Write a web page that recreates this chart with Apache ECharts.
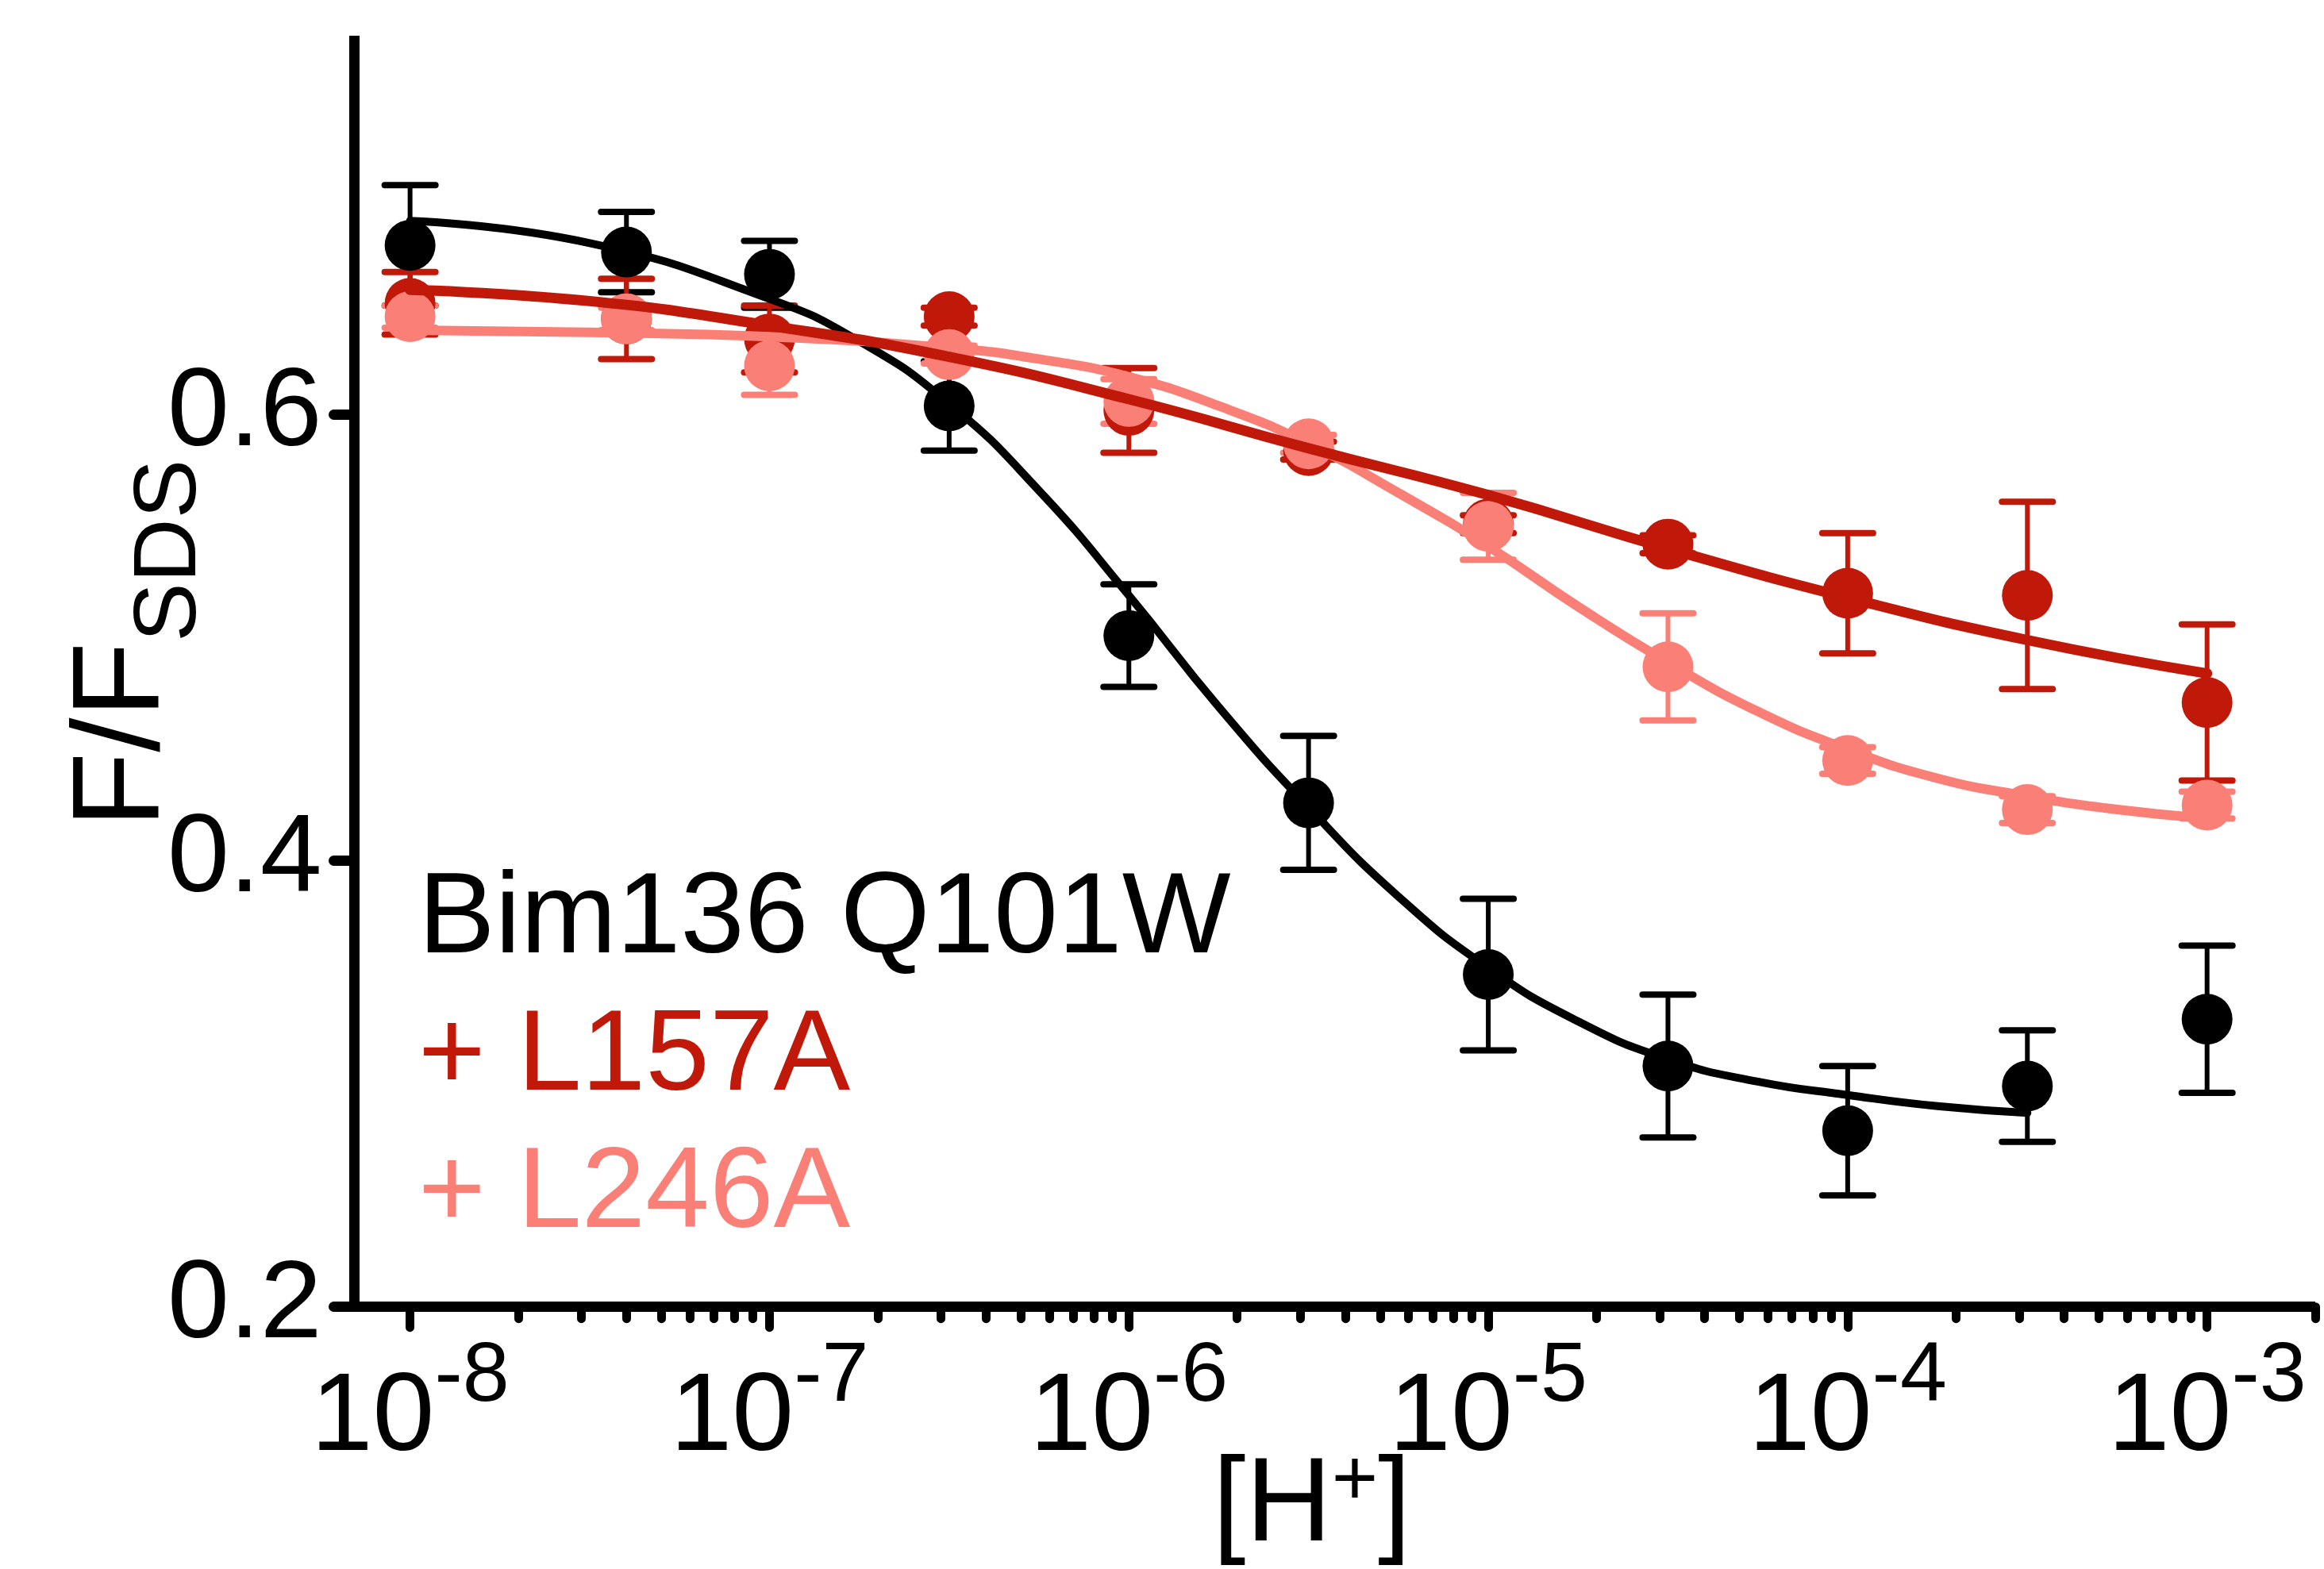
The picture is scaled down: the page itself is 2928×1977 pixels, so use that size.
<!DOCTYPE html>
<html>
<head>
<meta charset="utf-8">
<script src="https://cdn.jsdelivr.net/npm/echarts@6/dist/echarts.min.js"></script>
<style>
  html, body { margin: 0; padding: 0; background: #ffffff; }
  #chart { width: 2928px; height: 1977px; }
</style>
</head>
<body>
<div id="chart"></div>
<script>
// ---- data ----
const hConc = [1e-8, 4e-8, 1e-7, 3.162e-7, 1e-6, 3.162e-6, 1e-5, 3.162e-5, 1e-4, 3.162e-4, 1e-3];

const bimMean = [0.676, 0.673, 0.663, 0.604, 0.501, 0.426, 0.349, 0.308, 0.279, 0.299, 0.329];
const bimErr  = [0.027, 0.018, 0.015, 0.020, 0.023, 0.030, 0.034, 0.032, 0.029, 0.025, 0.033];

const l157Mean = [0.650, 0.643, 0.634, 0.644, 0.602, 0.584, 0.551, 0.542, 0.520, 0.519, 0.471];
const l157Err  = [0.014, 0.018, 0.015, 0.004, 0.019, 0.004, 0.004, 0.004, 0.027, 0.042, 0.035];

const l246Mean = [0.644, 0.643, 0.622, 0.627, 0.606, 0.587, 0.550, 0.487, 0.445, 0.423, 0.425];
const l246Err  = [0.005, 0.005, 0.013, 0.004, 0.010, 0.004, 0.015, 0.024, 0.006, 0.006, 0.006];

// fitted curves (log10 [H+], F/F_SDS)
const bimFitLogH = [-8, -7.5, -7.0, -6.75, -6.5, -6.25, -6.0, -5.75, -5.5, -5.25, -5.0, -4.75, -4.5, -4.25, -4.0, -3.75, -3.5];
const bimFitY    = [0.687, 0.677, 0.652, 0.633, 0.605, 0.566, 0.519, 0.469, 0.424, 0.384, 0.352, 0.328, 0.311, 0.301, 0.295, 0.290, 0.287];

const l157FitLogH = [-8, -7.5, -7, -6.5, -6, -5.5, -5, -4.5, -4, -3.5, -3];
const l157FitY    = [0.656, 0.651, 0.640, 0.626, 0.607, 0.585, 0.564, 0.540, 0.518, 0.499, 0.484];

const l246FitLogH = [-8, -7.5, -7, -6.5, -6.25, -6, -5.75, -5.5, -5.25, -5, -4.75, -4.5, -4.25, -4, -3.75, -3.5, -3.25, -3];
const l246FitY    = [0.638, 0.637, 0.635, 0.630, 0.625, 0.617, 0.604, 0.587, 0.565, 0.541, 0.514, 0.489, 0.467, 0.450, 0.437, 0.429, 0.423, 0.419];

const seriesNames = ['Bim136 Q101W', '+ L157A', '+ L246A'];
const seriesColors = ['#000000', '#C0190A', '#FA8077'];

const xTickExps = [-8, -7, -6, -5, -4, -3];
const minorMultipliers = [2, 3, 4, 5, 6, 7, 8, 9];
const yTicks = [0.2, 0.4, 0.6];

const xMinConc = 7e-9;
const xMaxConc = 2e-3;
const yMin = 0.2, yMax = 0.77;

// ---- build ----
const FONT = "'Liberation Sans', Arial, Helvetica, sans-serif";
const xMin = Math.log10(xMinConc), xMax = Math.log10(xMaxConc);

const minorTicks = [];
xTickExps.forEach(e => minorMultipliers.forEach(m => {
  const v = e + Math.log10(m);
  if (v > xMin && v <= xMax + 1e-9) minorTicks.push(v);
}));

const logH = hConc.map(v => Math.log10(v));
const groups = [
  { mean: bimMean, err: bimErr, fx: bimFitLogH, fy: bimFitY },
  { mean: l157Mean, err: l157Err, fx: l157FitLogH, fy: l157FitY },
  { mean: l246Mean, err: l246Err, fx: l246FitLogH, fy: l246FitY }
];

const series = [];
// error bars
groups.forEach((g, i) => {
  const col = seriesColors[i];
  series.push({
    name: seriesNames[i],
    type: 'custom',
    z: 1,
    silent: true,
    encode: { x: 0, y: 1 },
    data: logH.map((x, k) => [x, g.mean[k], g.err[k]]),
    renderItem: function (params, api) {
      const x = api.value(0), y = api.value(1), e = api.value(2);
      const top = api.coord([x, y + e]);
      const bot = api.coord([x, y - e]);
      const hw = 32;
      return {
        type: 'group',
        children: [
          { type: 'line', shape: { x1: top[0], y1: top[1], x2: bot[0], y2: bot[1] }, style: { stroke: col, lineWidth: 6 } },
          { type: 'line', shape: { x1: top[0] - hw, y1: top[1], x2: top[0] + hw, y2: top[1] }, style: { stroke: col, lineWidth: 8, lineCap: 'round' } },
          { type: 'line', shape: { x1: bot[0] - hw, y1: bot[1], x2: bot[0] + hw, y2: bot[1] }, style: { stroke: col, lineWidth: 8, lineCap: 'round' } }
        ]
      };
    }
  });
});
// points
groups.forEach((g, i) => {
  series.push({
    name: seriesNames[i],
    type: 'scatter',
    z: 2,
    symbol: 'circle',
    symbolSize: 64,
    itemStyle: { color: seriesColors[i], opacity: 1 },
    data: logH.map((x, k) => [x, g.mean[k]])
  });
});
// fitted curves (black, pink, then red on top)
[0, 2, 1].forEach(i => {
  const g = groups[i];
  series.push({
    name: seriesNames[i],
    type: 'line',
    z: 3,
    smooth: 0.5,
    showSymbol: false,
    symbol: 'none',
    lineStyle: { color: seriesColors[i], width: i === 0 ? 10 : (i === 1 ? 13 : 12), cap: 'round', join: 'round' },
    data: g.fx.map((x, k) => [x, g.fy[k]])
  });
});

const chart = echarts.init(document.getElementById('chart'), null, { renderer: 'canvas' });
chart.setOption({
  animation: false,
  backgroundColor: '#ffffff',
  textStyle: { fontFamily: FONT },
  grid: { left: 446.5, right: 11, top: 45, bottom: 330.3, containLabel: false, outerBoundsMode: 'none' },
  legend: {
    orient: 'vertical',
    left: 522,
    top: 1074,
    padding: 0,
    itemGap: 0,
    itemWidth: 0,
    itemHeight: 0,
    icon: 'none',
    selectedMode: false,
    textStyle: { fontSize: 145, lineHeight: 173, fontFamily: FONT },
    data: seriesNames.map((n, i) => ({ name: n, icon: 'none', textStyle: { color: seriesColors[i] } }))
  },
  xAxis: [
    {
      type: 'value',
      min: xMin,
      max: xMax,
      splitLine: { show: false },
      axisLine: { show: true, onZero: false, lineStyle: { color: '#000', width: 13, cap: 'butt' } },
      axisTick: { show: true, customValues: xTickExps, length: 26, lineStyle: { color: '#000', width: 11, cap: 'round' } },
      axisLabel: {
        show: true,
        customValues: xTickExps,
        margin: 36,
        formatter: v => '{b|10}{s|' + Math.round(v) + '}',
        rich: {
          b: { fontSize: 140, lineHeight: 176, verticalAlign: 'bottom', color: '#000', fontFamily: FONT },
          s: { fontSize: 106, lineHeight: 112, verticalAlign: 'top', color: '#000', fontFamily: FONT }
        }
      },
      name: '[H{p|+}]',
      nameLocation: 'middle',
      nameGap: 178,
      nameMoveOverlap: false,
      nameTextStyle: {
        fontSize: 150, color: '#000', fontFamily: FONT, lineHeight: 150,
        padding: [0, 58, 0, 0],
        rich: { p: { fontSize: 100, lineHeight: 100, padding: [0, 0, 62, 0], color: '#000', fontFamily: FONT } }
      }
    },
    {
      type: 'value',
      min: xMin,
      max: xMax,
      position: 'bottom',
      splitLine: { show: false },
      axisLine: { show: false, onZero: false },
      axisLabel: { show: false },
      axisTick: { show: true, customValues: minorTicks.concat([xMax]), length: 15, lineStyle: { color: '#000', width: 11, cap: 'round' } }
    }
  ],
  yAxis: {
    type: 'value',
    min: yMin,
    max: yMax,
    splitLine: { show: false },
    axisLine: { show: true, onZero: false, lineStyle: { color: '#000', width: 13, cap: 'butt' } },
    axisTick: { show: true, customValues: yTicks, length: 26, lineStyle: { color: '#000', width: 13, cap: 'round' } },
    axisLabel: {
      customValues: yTicks,
      margin: 41,
      fontSize: 140,
      color: '#000',
      fontFamily: FONT,
      formatter: v => v.toFixed(1)
    },
    name: '{m|F/F}{s|SDS}',
    nameLocation: 'middle',
    nameRotate: 90,
    nameGap: 212,
    nameMoveOverlap: false,
    nameTextStyle: {
      color: '#000',
      fontFamily: FONT,
      padding: [0, 0, 0, 70],
      rich: {
        m: { fontSize: 156, lineHeight: 156, color: '#000', fontFamily: FONT },
        s: { fontSize: 112, lineHeight: 112, padding: [118, 0, 0, 0], color: '#000', fontFamily: FONT }
      }
    }
  },
  series: series
});
</script>
</body>
</html>
